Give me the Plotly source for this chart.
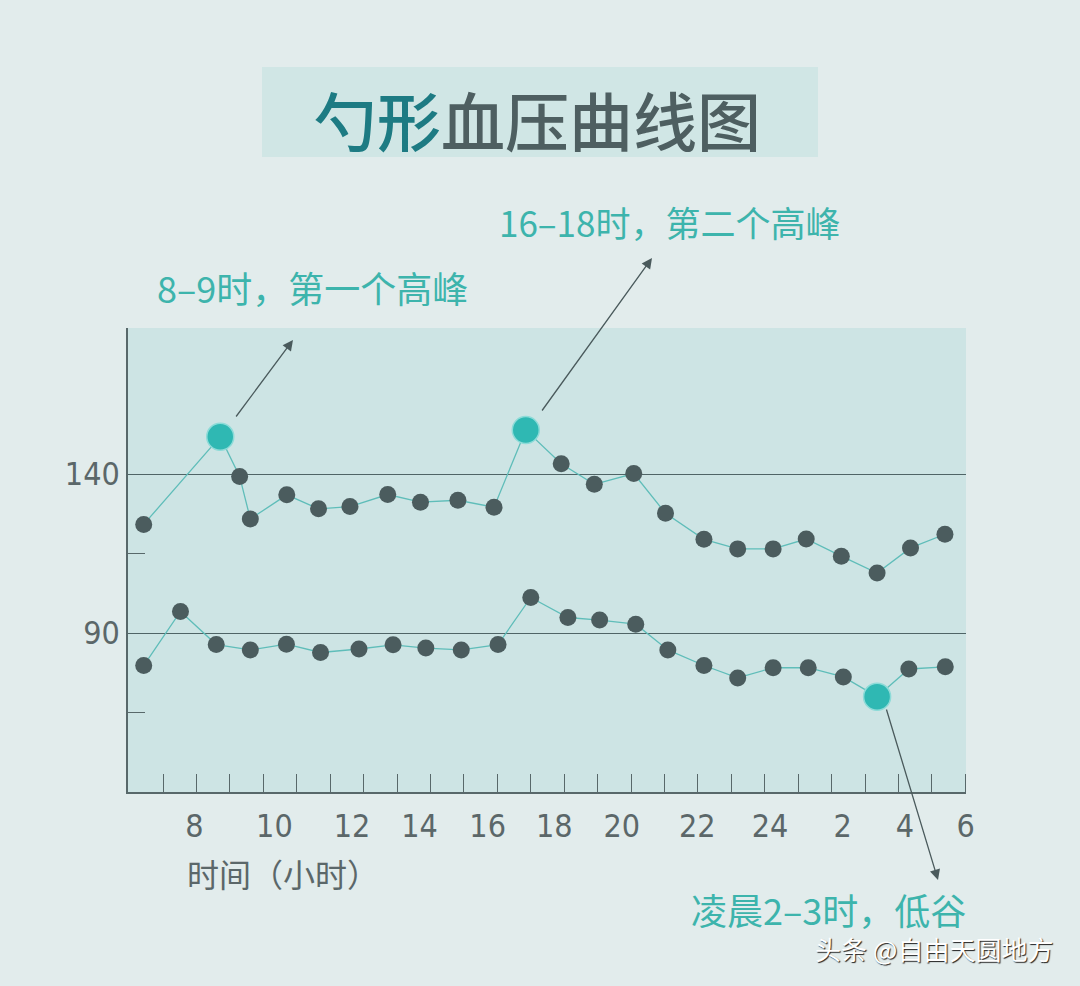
import plotly.graph_objects as go

# ---- data ----
# x positions on the hourly tick scale (tick 0 .. tick 24)
upper_x = [-0.58, 1.71, 2.29, 2.61, 3.70, 4.65, 5.59, 6.72, 7.70, 8.82, 9.90, 10.85,
           11.91, 12.90, 14.08, 15.03, 16.18, 17.19, 18.25, 19.24, 20.29, 21.36, 22.36, 23.39]
upper_y = [124.2, 151.8, 139.3, 125.9, 133.5, 129.1, 129.8, 133.6, 131.2, 131.8, 129.6, 153.9,
           143.3, 136.8, 140.2, 127.7, 119.5, 116.5, 116.5, 119.6, 114.2, 108.9, 116.8, 121.1]
upper_hi = [1, 11]

lower_x = [-0.58, 0.52, 1.59, 2.61, 3.69, 4.71, 5.86, 6.88, 7.86, 8.92, 10.02, 11.00,
           12.11, 13.06, 14.14, 15.10, 16.18, 17.19, 18.25, 19.30, 20.35, 21.36, 22.31, 23.40]
lower_y = [79.8, 96.8, 86.4, 84.7, 86.5, 83.9, 85.0, 86.3, 85.3, 84.7, 86.4, 101.2,
           94.9, 94.1, 92.8, 84.7, 79.8, 75.9, 79.1, 79.1, 76.2, 70.0, 78.7, 79.4]
lower_hi = [21]

x_tick_vals = [0.94, 3.33, 5.65, 7.67, 9.71, 11.70, 13.72, 15.98, 18.16, 20.33, 22.19, 24.01]
x_tick_text = ["8", "10", "12", "14", "16", "18", "20", "22", "24", "2", "4", "6"]
x_minor_vals = list(range(0, 25))
y_grid_vals = [90, 140]
y_minor_vals = [65, 115]

# ---- style ----
DARK = "#4b5c5e"
TEAL = "#2fb8b3"
LINE = "#5fbdb9"
TXT_TEAL = "#3db4ac"
TXT_GRAY = "#5b6769"
NUM_FONT = "Liberation Sans Narrow, DejaVu Sans Condensed, Noto Sans, sans-serif"
CJK = "Noto Sans CJK SC"


def series(xs, ys, hi):
    colors = [TEAL if i in hi else DARK for i in range(len(xs))]
    sizes = [27 if i in hi else 17 for i in range(len(xs))]
    lcol = ["#8ddbd8" if i in hi else DARK for i in range(len(xs))]
    lw = [1.5 if i in hi else 0 for i in range(len(xs))]
    return go.Scatter(x=xs, y=ys, mode="lines+markers",
                      line=dict(color=LINE, width=1.3),
                      marker=dict(color=colors, size=sizes, opacity=1,
                                  line=dict(color=lcol, width=lw)),
                      hoverinfo="skip", showlegend=False)


fig = go.Figure()
fig.add_trace(series(upper_x, upper_y, upper_hi))
fig.add_trace(series(lower_x, lower_y, lower_hi))

L, R, T, B = 128, 114, 328, 194
W, H = 1080, 986
pw, ph = W - L - R, H - T - B


def px(x):
    return (x - L) / pw


def py(y):
    return (H - B - y) / ph


fig.update_layout(
    width=W, height=H,
    margin=dict(l=L, r=R, t=T, b=B, autoexpand=False),
    paper_bgcolor="#e2ecec",
    plot_bgcolor="#cde4e4",
    font=dict(family=CJK, color=TXT_GRAY),
    xaxis=dict(range=[-1.05, 24.02], showgrid=False, zeroline=False,
               showline=True, linecolor="#58686a", linewidth=1.6,
               tickmode="array", tickvals=x_tick_vals, ticktext=x_tick_text,
               ticks="", ticklabelstandoff=5,
               tickfont=dict(family=NUM_FONT, size=32, color=TXT_GRAY),
               minor=dict(tickmode="array", tickvals=x_minor_vals, ticks="inside",
                          ticklen=18, tickwidth=1.4, tickcolor="#58686a",
                          showgrid=False)),
    yaxis=dict(range=[40, 186], showgrid=True, gridcolor="#4f6466", gridwidth=1.4,
               zeroline=False, showline=True, linecolor="#58686a", linewidth=1.6,
               tickmode="array", tickvals=y_grid_vals,
               ticktext=[str(v) for v in y_grid_vals],
               ticks="", ticklabelstandoff=0,
               tickfont=dict(family=NUM_FONT, size=32, color=TXT_GRAY),
               minor=dict(tickmode="array", tickvals=y_minor_vals, ticks="inside",
                          ticklen=17, tickwidth=1.4, tickcolor="#58686a",
                          showgrid=False)),
)

# title box
fig.add_shape(type="rect", xref="paper", yref="paper",
              x0=px(262), x1=px(818), y0=py(157), y1=py(67),
              fillcolor="#d0e6e5", line=dict(width=0), layer="below")

ann = []
ann.append(dict(text="<span style='color:#1d7b83'>勺形</span>血压曲线图",
                x=px(537), y=py(118), xanchor="center", yanchor="middle",
                font=dict(family=CJK, size=64, color="#4e5f61", weight=500)))
ann.append(dict(text="8–9时，第一个高峰", x=px(155), y=py(287),
                xanchor="left", yanchor="middle",
                font=dict(family=CJK, size=36, color=TXT_TEAL)))
ann.append(dict(text="16–18时，第二个高峰", x=px(497), y=py(221),
                xanchor="left", yanchor="middle",
                font=dict(family=CJK, size=35, color=TXT_TEAL)))
ann.append(dict(text="凌晨2–3时，低谷", x=px(689), y=py(909),
                xanchor="left", yanchor="middle",
                font=dict(family=CJK, size=36, color=TXT_TEAL)))
ann.append(dict(text="时间（小时）", x=px(185), y=py(873),
                xanchor="left", yanchor="middle",
                font=dict(family=CJK, size=32, color=TXT_GRAY)))
ann.append(dict(text="头条 @自由天圆地方", x=px(1055), y=py(948),
                xanchor="right", yanchor="middle",
                font=dict(family=CJK, size=26, color="#ffffff",
                          shadow="1px 1px 1px #222")))

for tip, tail in [((293, 340), (235, 418)), ((652, 258), (541, 412)),
                  ((938, 880), (886, 708))]:
    ann.append(dict(text="", x=px(tip[0]), y=py(tip[1]),
                    ax=tail[0] - tip[0], ay=tail[1] - tip[1],
                    showarrow=True, arrowhead=2, arrowsize=1.6, arrowwidth=1.3,
                    arrowcolor="#4a5a5c", standoff=0, startstandoff=0))

for a in ann:
    a.setdefault("showarrow", False)
    a["xref"] = "paper"
    a["yref"] = "paper"
fig.update_layout(annotations=ann)

fig.write_html("out.html", config={"displayModeBar": False},
               post_script="document.body.style.margin='0';"
                           "document.body.style.background='#e2ecec';")
